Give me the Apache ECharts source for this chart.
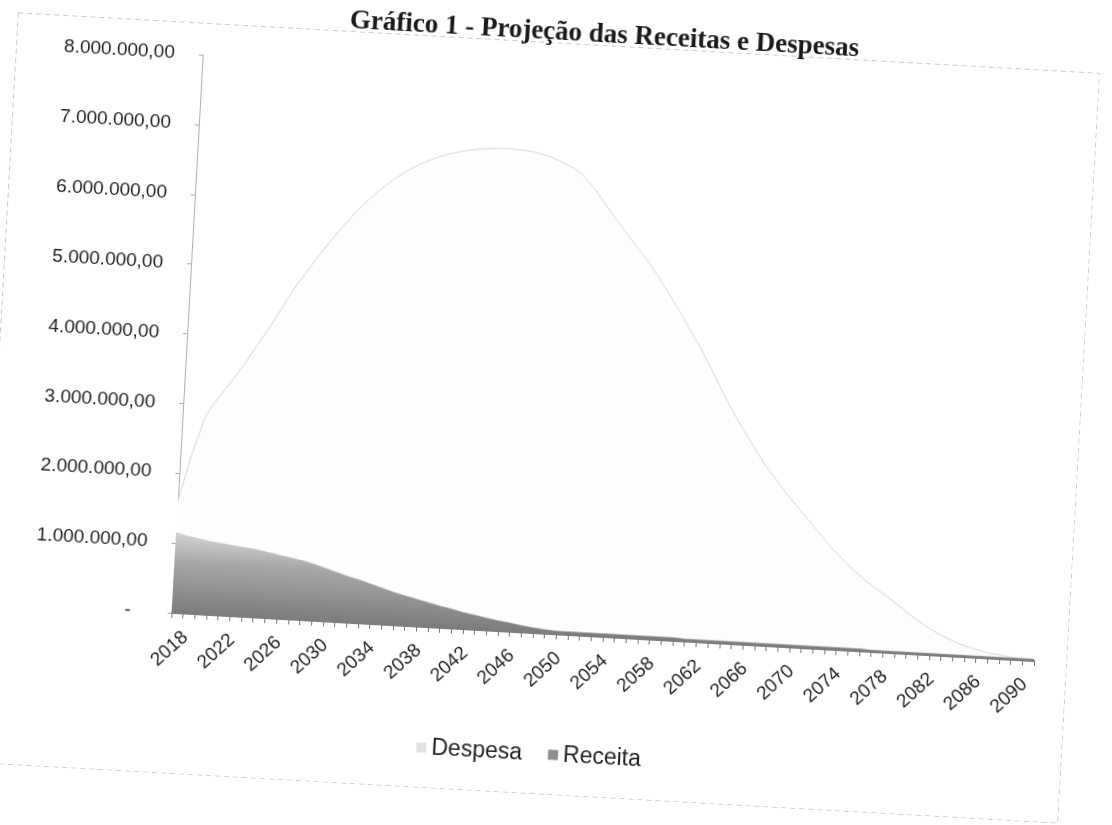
<!DOCTYPE html>
<html lang="pt-BR">
<head>
<meta charset="utf-8">
<title>Gráfico 1 - Projeção das Receitas e Despesas</title>
<script src="https://cdn.jsdelivr.net/npm/echarts@6/dist/echarts.min.js"></script>
<style>
  html, body { margin: 0; padding: 0; background: #fff; overflow: hidden; width: 1112px; height: 825px; }
  /* página escaneada levemente inclinada */
  #grafico {
    position: absolute; left: -4px; top: -6px; width: 1084px; height: 800px;
    transform-origin: 542px 424px; transform: rotate(3.2deg);
  }
</style>
</head>
<body>
<div id="grafico"></div>
<script>
(() => {
  // ── Dados (valores em milhões de R$) ─────────────────────────────────────
  const ANO_INICIAL = 2018;
  const ANO_FINAL = 2092;

  const despesa = [
    1.60, 2.30, 2.85, 3.12, 3.35, 3.60, 3.88, 4.15, 4.45, 4.75,   // 2018-2027
    5.00, 5.25, 5.48, 5.70, 5.90, 6.08, 6.24, 6.38, 6.50, 6.60,   // 2028-2037
    6.68, 6.75, 6.80, 6.84, 6.87, 6.89, 6.90, 6.90, 6.89, 6.87,   // 2038-2047
    6.83, 6.77, 6.70, 6.60, 6.43, 6.22, 6.01, 5.81, 5.61, 5.42,   // 2048-2057
    5.20, 4.96, 4.72, 4.46, 4.20, 3.92, 3.62, 3.34, 3.08, 2.84,   // 2058-2067
    2.60, 2.40, 2.20, 2.02, 1.84, 1.66, 1.48, 1.32, 1.17, 1.04,   // 2068-2077
    0.92, 0.82, 0.70, 0.58, 0.47, 0.37, 0.29, 0.22, 0.16, 0.12,   // 2078-2087
    0.08, 0.06, 0.04, 0.03, 0.02                                  // 2088-2092
  ];

  const receita = [
    1.15, 1.11, 1.08, 1.05, 1.03, 1.01, 0.99, 0.97, 0.94, 0.91,
    0.88, 0.85, 0.81, 0.76, 0.71, 0.66, 0.62, 0.57, 0.52, 0.47,
    0.43, 0.39, 0.35, 0.31, 0.28, 0.24, 0.21, 0.18, 0.15, 0.13,
    0.10, 0.08, 0.06, 0.05, 0.05, 0.05, 0.05, 0.05, 0.05, 0.05,
    0.05, 0.05, 0.05, 0.05, 0.04, 0.04, 0.04, 0.04, 0.04, 0.04,
    0.04, 0.04, 0.04, 0.04, 0.04, 0.04, 0.04, 0.04, 0.04, 0.04,
    0.03, 0.03, 0.03, 0.03, 0.03, 0.03, 0.03, 0.03, 0.03, 0.03,
    0.03, 0.03, 0.03, 0.03, 0.03
  ];

  const anos = [];
  for (let a = ANO_INICIAL; a <= ANO_FINAL; a++) anos.push(String(a));

  const Y_MAX = 8;        // 8.000.000,00
  const Y_PASSO = 1;      // 1.000.000,00

  // ── Helpers ──────────────────────────────────────────────────────────────

  function fmtBR(v) {
    if (v === 0) return '{z|-}';
    const inteiro = String(Math.round(v * 1e6)).replace(/\B(?=(\d{3})+(?!\d))/g, '.');
    return inteiro + ',00';
  }

  const FONTE = '"Liberation Sans", Arial, sans-serif';
  const COR_TEXTO = '#1f1f1f';

  // ── Gráfico ──────────────────────────────────────────────────────────────

  const inst = echarts.init(document.getElementById('grafico'), null, { renderer: 'canvas' });

  const opt = {
    animation: false,
    backgroundColor: 'transparent',
    graphic: [
      {
        type: 'rect', z: 0, silent: true,
        shape: { x: 0.5, y: 48.5, width: 1083, height: 751 },
        style: { fill: null, stroke: '#cbcbcb', lineWidth: 1, lineDash: [5, 4] }
      },
      {
        type: 'text', z: 10, silent: true, x: 587, y: 38,
        style: {
          text: 'Gráfico 1 - Projeção das Receitas e Despesas',
          fill: '#1a1a1a', font: 'bold 27px "Liberation Serif", "Times New Roman", serif',
          align: 'center', verticalAlign: 'middle'
        }
      }
    ],
    legend: {
      data: ['Despesa', 'Receita'],
      left: 434, top: 743,
      icon: 'rect', itemWidth: 10, itemHeight: 10, itemGap: 26,
      textStyle: { fontFamily: FONTE, fontSize: 23, color: COR_TEXTO }
    },
    grid: { left: 187, top: 80, width: 864, height: 559, containLabel: false },
    xAxis: {
      type: 'category',
      data: anos,
      boundaryGap: false,
      axisLine: { lineStyle: { color: '#5a5a5a', width: 1.5 } },
      axisTick: { show: true, interval: 0, length: 5, lineStyle: { color: '#777' } },
      axisLabel: {
        interval: 3, rotate: 45, margin: 36,
        align: 'center', verticalAlign: 'middle',
        fontFamily: FONTE, fontSize: 19, color: COR_TEXTO
      },
      splitLine: { show: false }
    },
    yAxis: {
      type: 'value',
      min: 0, max: Y_MAX, interval: Y_PASSO,
      axisLine: { show: true, lineStyle: { color: '#b0b0b0', width: 1 } },
      axisTick: { show: true, length: 4, lineStyle: { color: '#aaa' } },
      axisLabel: {
        margin: 28, fontFamily: FONTE, fontSize: 19, color: COR_TEXTO,
        formatter: fmtBR,
        rich: { z: { fontFamily: FONTE, fontSize: 19, color: COR_TEXTO, padding: [0, 13, 0, 0] } }
      },
      splitLine: { show: false }
    },
    series: [
      {
        name: 'Despesa',
        type: 'line',
        data: despesa,
        showSymbol: false,
        smooth: false,
        itemStyle: { color: '#e2e2e2' },
        lineStyle: { color: '#d6d6d6', width: 1 },
        areaStyle: { color: '#fdfdfd', opacity: 1 },
        z: 2
      },
      {
        name: 'Receita',
        type: 'line',
        data: receita,
        showSymbol: false,
        smooth: false,
        itemStyle: { color: '#8e8e8e' },
        lineStyle: { color: '#bdbdbd', width: 0.5 },
        areaStyle: {
          opacity: 1,
          color: new echarts.graphic.LinearGradient(0, 0, 0, 1, [
            { offset: 0, color: '#d4d4d4' },
            { offset: 0.35, color: '#a8a8a8' },
            { offset: 1, color: '#7c7c7c' }
          ])
        },
        z: 3
      }
    ]
  };

  inst.setOption(opt);
})();
</script>
</body>
</html>
